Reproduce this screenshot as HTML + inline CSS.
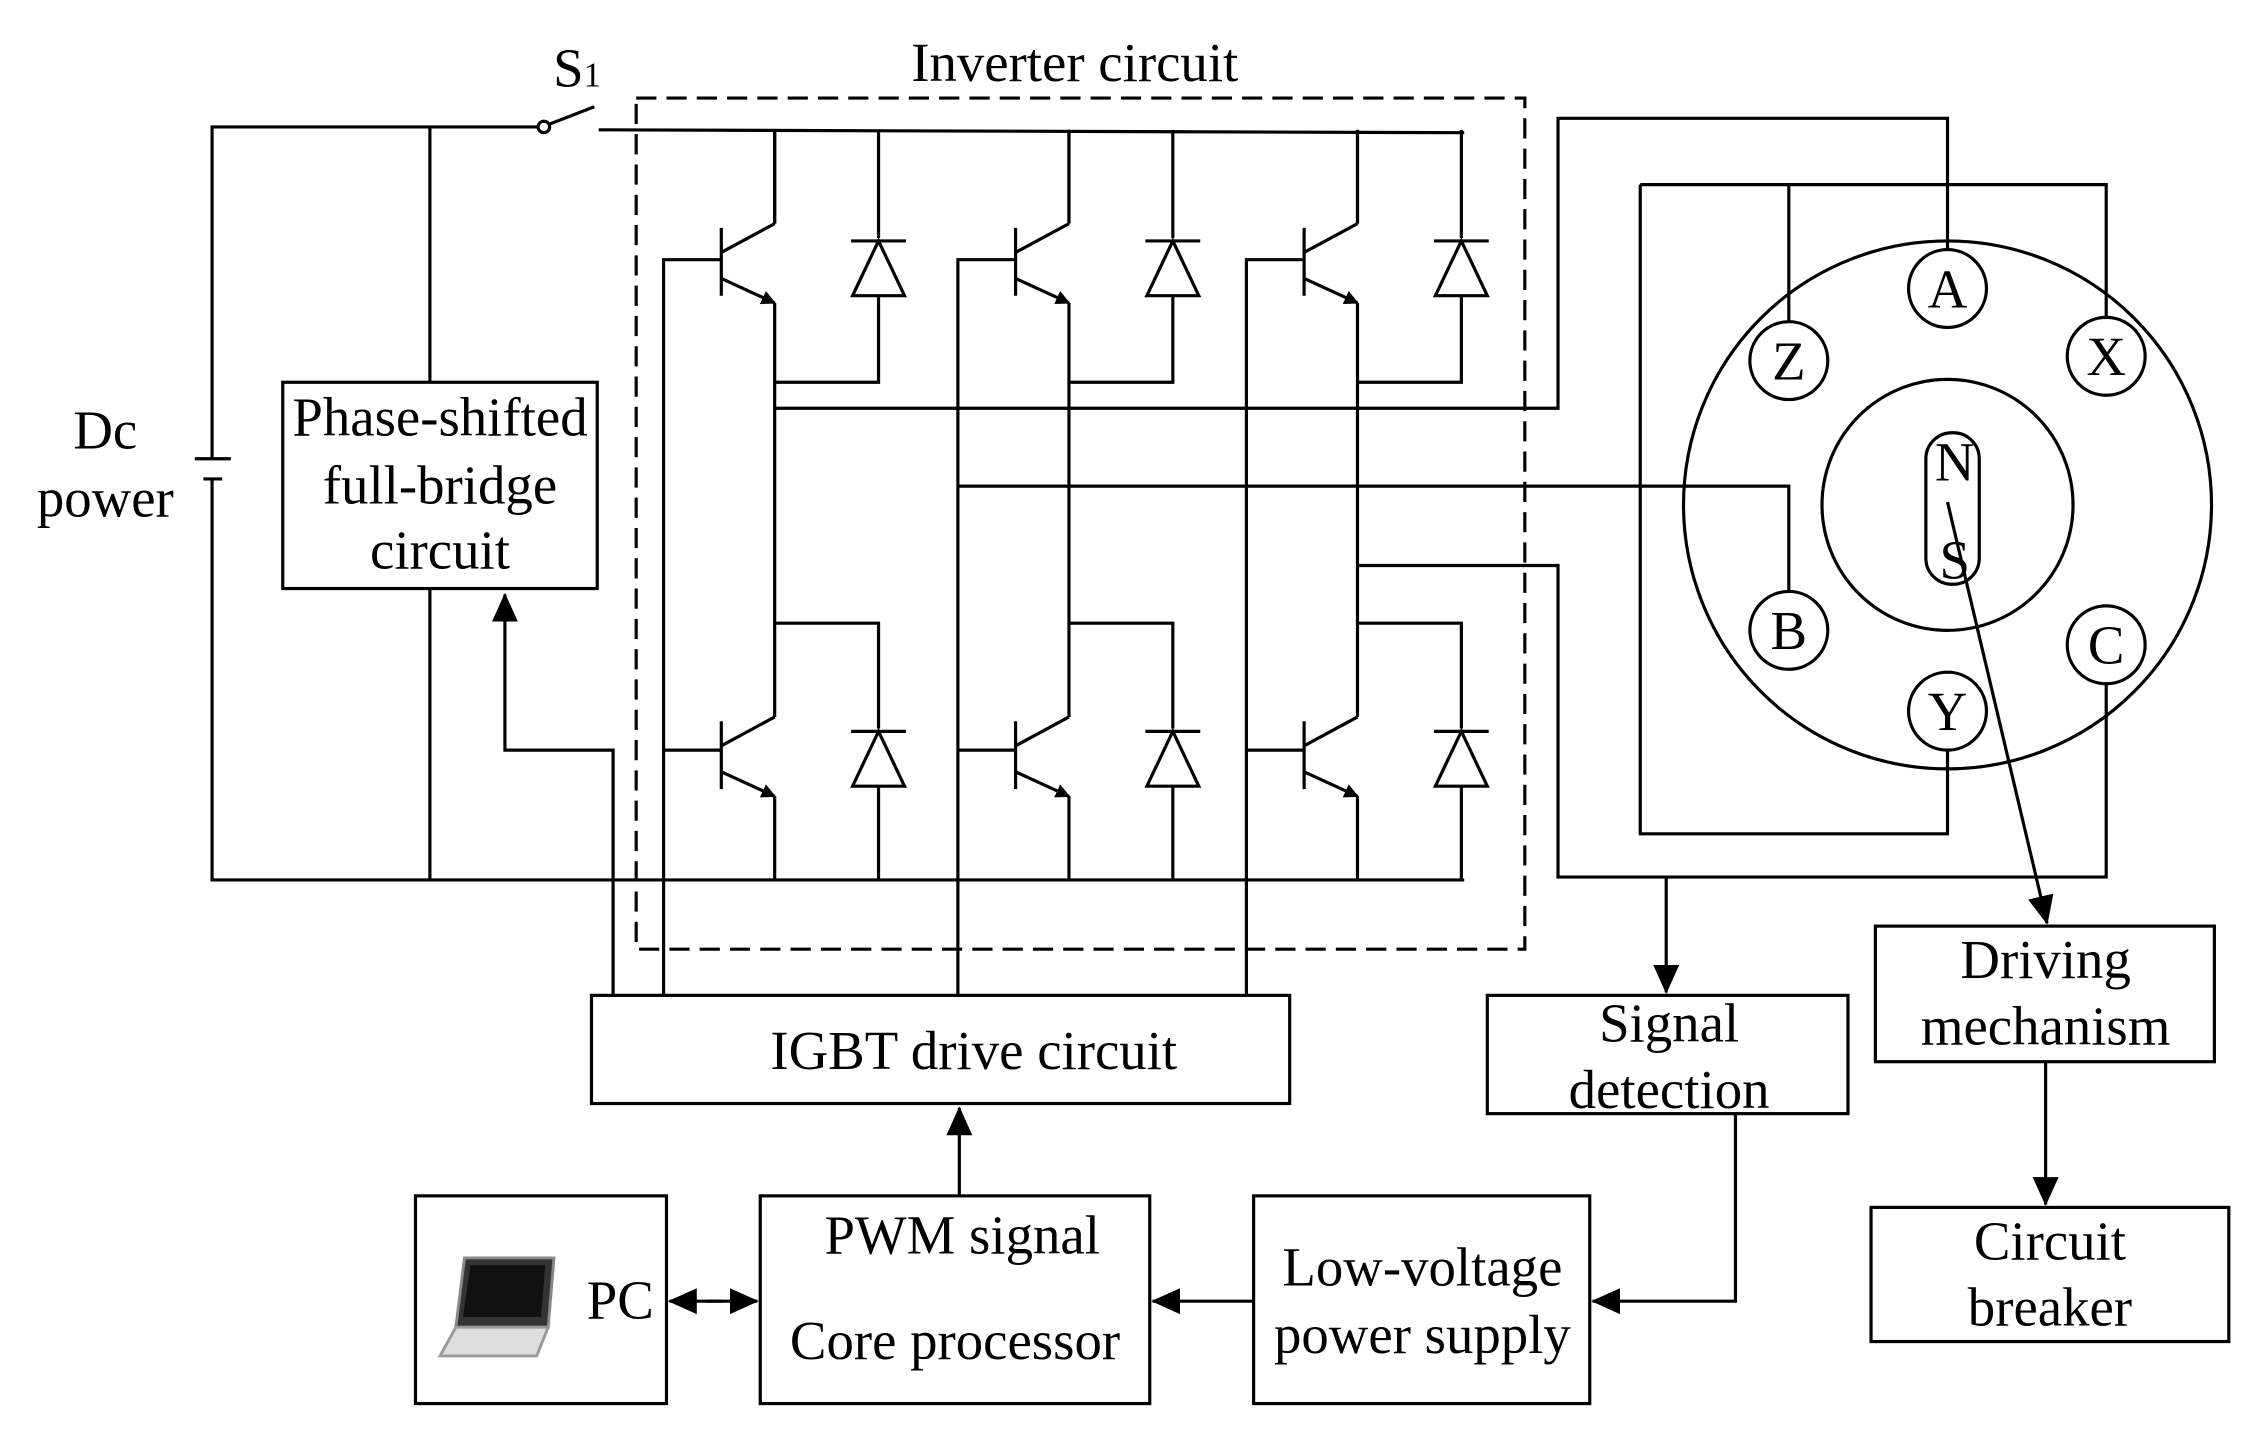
<!DOCTYPE html>
<html><head><meta charset="utf-8"><style>html,body{margin:0;padding:0;background:#fff}svg{display:block}</style></head>
<body>
<svg width="2262" height="1431" viewBox="0 0 1568 992" preserveAspectRatio="none" xmlns="http://www.w3.org/2000/svg">
<defs>
<marker id="ah" markerWidth="10" markerHeight="10" refX="9" refY="5" orient="auto" markerUnits="userSpaceOnUse"><path d="M0,0 L10,5 L0,10 z" fill="#000"/></marker>
<marker id="ah2" markerWidth="20" markerHeight="18" refX="19" refY="9" orient="auto" markerUnits="userSpaceOnUse"><path d="M0,0 L20,9 L0,18 z" fill="#000"/></marker>
<g id="tr" fill="none" stroke="#000" stroke-width="2.2">
<line x1="0" y1="0" x2="0" y2="65"/><line x1="0" y1="65" x2="-37" y2="85"/>
<line x1="-37" y1="68" x2="-37" y2="115"/>
<line x1="-37" y1="103" x2="0" y2="120" marker-end="url(#ah)"/>
</g>
<g id="di" fill="none" stroke="#000" stroke-width="2.2">
<line x1="-19" y1="0" x2="19" y2="0"/><path d="M0,0 L-18,38 L18,38 Z"/>
</g>
</defs>
<g fill="none" stroke="#000" stroke-width="2.2">
<polyline points="147,318 147,88 373,88"/>
<circle cx="377" cy="88" r="4"/>
<line x1="381" y1="86" x2="412" y2="74"/>
<line x1="415" y1="90" x2="1015" y2="92"/>
<line x1="135" y1="318" x2="160" y2="318"/>
<line x1="141" y1="332" x2="154" y2="332"/>
<polyline points="147,332 147,610 1015,610"/>
<line x1="298" y1="88" x2="298" y2="265"/>
<line x1="298" y1="408" x2="298" y2="610"/>
<rect x="196" y="265" width="218" height="143"/>
<polyline points="425,690 425,520 350,520 350,412" marker-end="url(#ah2)"/>
<rect x="441" y="68" width="616" height="590" stroke-dasharray="14,7"/>
<g>
<line x1="537" y1="90" x2="537" y2="155"/><use href="#tr" x="537" y="90"/>
<polyline points="537,210 537,432 609,432 609,505"/>
<polyline points="537,265 609,265 609,205"/><line x1="609" y1="90" x2="609" y2="165"/>
<use href="#di" x="609" y="167"/><use href="#di" x="609" y="507"/>
<line x1="609" y1="545" x2="609" y2="610"/>
<use href="#tr" x="537" y="432"/><line x1="537" y1="552" x2="537" y2="610"/>
<polyline points="500,180 460,180 460,690"/><line x1="460" y1="520" x2="500" y2="520"/>
</g>
<g transform="translate(204,0)">
<line x1="537" y1="90" x2="537" y2="155"/><use href="#tr" x="537" y="90"/>
<polyline points="537,210 537,432 609,432 609,505"/>
<polyline points="537,265 609,265 609,205"/><line x1="609" y1="90" x2="609" y2="165"/>
<use href="#di" x="609" y="167"/><use href="#di" x="609" y="507"/>
<line x1="609" y1="545" x2="609" y2="610"/>
<use href="#tr" x="537" y="432"/><line x1="537" y1="552" x2="537" y2="610"/>
<polyline points="500,180 460,180 460,690"/><line x1="460" y1="520" x2="500" y2="520"/>
</g>
<g transform="translate(404,0)">
<line x1="537" y1="90" x2="537" y2="155"/><use href="#tr" x="537" y="90"/>
<polyline points="537,210 537,432 609,432 609,505"/>
<polyline points="537,265 609,265 609,205"/><line x1="609" y1="90" x2="609" y2="165"/>
<use href="#di" x="609" y="167"/><use href="#di" x="609" y="507"/>
<line x1="609" y1="545" x2="609" y2="610"/>
<use href="#tr" x="537" y="432"/><line x1="537" y1="552" x2="537" y2="610"/>
<polyline points="500,180 460,180 460,690"/><line x1="460" y1="520" x2="500" y2="520"/>
</g>
<polyline points="537,283 1080,283 1080,82 1350,82 1350,173"/>
<polyline points="665,337 1240,337 1240,410"/>
<polyline points="941,392 1080,392 1080,608 1460,608 1460,474"/>
<polyline points="1137,128 1460,128 1460,220"/>
<line x1="1240" y1="128" x2="1240" y2="223"/>
<polyline points="1137,128 1137,578 1350,578 1350,520"/>
<circle cx="1350" cy="350" r="183"/>
<circle cx="1350" cy="350" r="87"/>
<rect x="1335" y="300" width="37" height="105" rx="18" fill="#fff"/>
<circle cx="1350" cy="200" r="27" fill="#fff"/>
<circle cx="1240" cy="250" r="27" fill="#fff"/>
<circle cx="1460" cy="247" r="27" fill="#fff"/>
<circle cx="1240" cy="437" r="27" fill="#fff"/>
<circle cx="1460" cy="447" r="27" fill="#fff"/>
<circle cx="1350" cy="493" r="27" fill="#fff"/>
<line x1="1350" y1="348" x2="1419" y2="640" marker-end="url(#ah2)"/>
<line x1="1155" y1="608" x2="1155" y2="688" marker-end="url(#ah2)"/>
<rect x="410" y="690" width="484" height="75"/>
<rect x="1031" y="690" width="250" height="82"/>
<rect x="1300" y="642" width="235" height="94"/>
<rect x="1297" y="837" width="248" height="93"/>
<rect x="288" y="829" width="174" height="144"/>
<rect x="527" y="829" width="270" height="144"/>
<rect x="869" y="829" width="233" height="144"/>
<line x1="665" y1="829" x2="665" y2="768" marker-end="url(#ah2)"/>
<line x1="490" y1="902" x2="525" y2="902" marker-end="url(#ah2)"/>
<line x1="500" y1="902" x2="464" y2="902" marker-end="url(#ah2)"/>
<line x1="869" y1="902" x2="799" y2="902" marker-end="url(#ah2)"/>
<polyline points="1203,772 1203,902 1104,902" marker-end="url(#ah2)"/>
<line x1="1418" y1="736" x2="1418" y2="835" marker-end="url(#ah2)"/>
</g>
<g>
<path d="M322,872 L384,872 L380,920 L316,920 Z" fill="#333" stroke="#888" stroke-width="2"/>
<path d="M326,877 L378,877 L375,913 L321,913 Z" fill="#111"/>
<path d="M316,920 L380,920 L372,940 L305,940 Z" fill="#ddd" stroke="#999" stroke-width="2"/>
</g>
<g font-family="Liberation Serif, serif" font-size="38" fill="#000" text-anchor="middle">
<text x="745" y="56">Inverter circuit</text>
<text x="400" y="60">S<tspan font-size="24">1</tspan></text>
<text x="73" y="311">Dc</text>
<text x="73" y="358">power</text>
<text x="305" y="302">Phase-shifted</text>
<text x="305" y="349">full-bridge</text>
<text x="305" y="394">circuit</text>
<text x="1350" y="213">A</text><text x="1240" y="263">Z</text><text x="1460" y="260">X</text>
<text x="1240" y="450">B</text><text x="1460" y="460">C</text><text x="1350" y="506">Y</text>
<text x="1355" y="333">N</text><text x="1355" y="401">S</text>
<text x="675" y="741">IGBT drive circuit</text>
<text x="1157" y="722">Signal</text><text x="1157" y="768">detection</text>
<text x="1418" y="678">Driving</text><text x="1418" y="724">mechanism</text>
<text x="1421" y="873">Circuit</text><text x="1421" y="919">breaker</text>
<text x="430" y="914">PC</text>
<text x="667" y="869">PWM signal</text>
<text x="662" y="942">Core processor</text>
<text x="986" y="891">Low-voltage</text>
<text x="986" y="938">power supply</text>
</g>
</svg>
</body></html>
